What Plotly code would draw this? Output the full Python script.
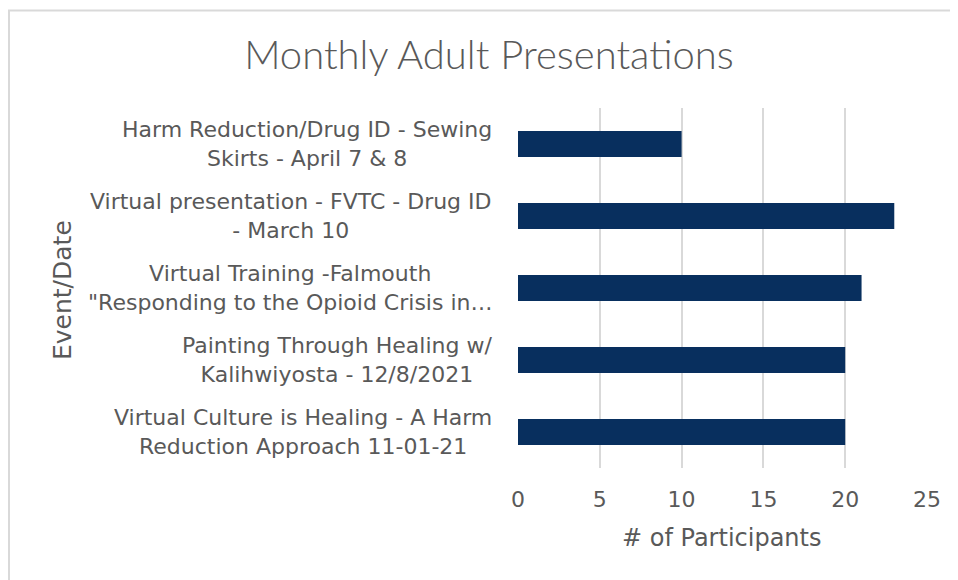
import plotly.graph_objects as go

categories = [
    "Harm Reduction/Drug ID - Sewing<br>Skirts - April 7 & 8",
    "Virtual presentation - FVTC - Drug ID<br>- March 10",
    "Virtual Training -Falmouth<br>\"Responding to the Opioid Crisis in…",
    "Painting Through Healing w/<br>Kalihwiyosta - 12/8/2021",
    "Virtual Culture is Healing - A Harm<br>Reduction Approach 11-01-21",
]
participants = [10, 23, 21, 20, 20]
x_ticks = [0, 5, 10, 15, 20, 25]

# page body has an 8px margin; figure is sized/shifted to compensate
OFF = 8
W, H = 958 - OFF, 580 - OFF
L, R, T, B = 518 - OFF, 31, 108 - OFF, 112
pw, ph = W - L - R, H - T - B

def xp(px):
    return (px - OFF - L) / pw

def yp(py):
    return (H - B - (py - OFF)) / ph

TEXT = "#595959"
FONT = "DejaVu Sans"

fig = go.Figure(go.Bar(
    x=participants, y=categories, orientation="h",
    marker=dict(color="#082F5E", line=dict(width=0)),
    width=0.36,
))

annotations = [
    dict(text=c, x=xp(494), y=c, xref="paper", yref="y", xanchor="right",
         yanchor="middle", align="center", showarrow=False,
         font=dict(family=FONT, size=22, color=TEXT))
    for c in categories
]
annotations.append(dict(text="Event/Date", x=xp(62), y=yp(290), xref="paper", yref="paper",
                        textangle=-90, showarrow=False, xanchor="center", yanchor="middle",
                        font=dict(family=FONT, size=25, color=TEXT)))
annotations.append(dict(text="# of Participants", x=xp(721), y=yp(538), xref="paper", yref="paper",
                        showarrow=False, xanchor="center", yanchor="middle",
                        font=dict(family=FONT, size=24, color=TEXT)))

fig.update_layout(
    width=W, height=H,
    margin=dict(l=L, r=R, t=T, b=B),
    paper_bgcolor="white", plot_bgcolor="white",
    title=dict(text="Monthly Adult Presentations", x=(489 - OFF) / W, xanchor="center",
               y=1 - (55 - OFF) / H, yanchor="middle", yref="container",
               font=dict(family="Lato", size=40, color=TEXT, weight=300)),
    showlegend=False,
    xaxis=dict(range=[0, 25], tickvals=x_ticks, showgrid=True, gridcolor="#D9D9D9",
               gridwidth=1.5, zeroline=False, showline=False, ticks="",
               ticklabelstandoff=16,
               tickfont=dict(family=FONT, size=22, color=TEXT)),
    yaxis=dict(autorange="reversed", showticklabels=False, showgrid=False,
               zeroline=False, showline=False, type="category"),
    annotations=annotations,
    shapes=[
        dict(type="line", xref="paper", yref="paper", x0=xp(4), x1=xp(962),
             y0=yp(10.5), y1=yp(10.5), line=dict(color="#D9D9D9", width=2)),
        dict(type="line", xref="paper", yref="paper", x0=xp(9), x1=xp(9),
             y0=yp(10), y1=yp(590), line=dict(color="#D9D9D9", width=2)),
    ],
)

fig.write_html("out.html")
